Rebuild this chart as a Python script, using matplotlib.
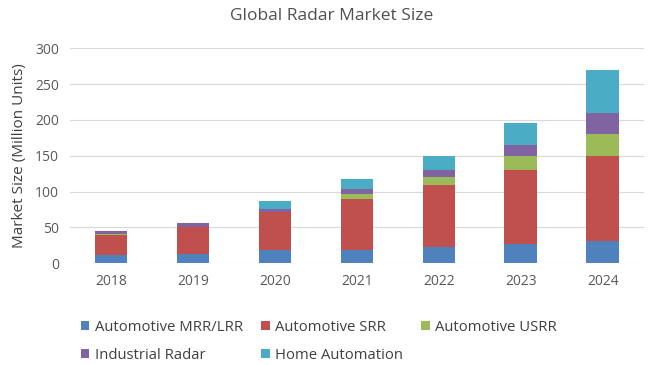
import numpy as np
import matplotlib.pyplot as plt

plt.rcParams['font.family'] = ['Open Sans', 'DejaVu Sans']

years = ['2018', '2019', '2020', '2021', '2022', '2023', '2024']
mrr_lrr = [12, 13, 18, 18, 23, 27, 31]
srr = [28, 37, 53, 71, 86, 103, 119]
usrr = [0.5, 0.5, 1, 7, 11, 20, 30]
industrial = [4, 5, 4, 7, 10, 15, 30]
home = [0, 0, 11, 15, 20, 30, 59]

series = [mrr_lrr, srr, usrr, industrial, home]
names = ['Automotive MRR/LRR', 'Automotive SRR', 'Automotive USRR',
         'Industrial Radar', 'Home Automation']
colors = ['#4F81BD', '#C0504D', '#9BBB59', '#8064A2', '#4BACC6']

fig = plt.figure(figsize=(6.61, 3.65), dpi=100)
ax = fig.add_axes([0.106, 0.279, 0.868, 0.589])

x = np.arange(len(years))
bottom = np.zeros(len(years))
bars = []
for vals, name, c in zip(series, names, colors):
    b = ax.bar(x, vals, 0.4, bottom=bottom, color=c, label=name, zorder=3)
    bars.append(b)
    bottom += np.array(vals)

ax.set_xlim(-0.5, len(years) - 0.5)
ax.set_ylim(0, 300)
ax.set_yticks(range(0, 301, 50))
ax.set_xticks(x)
ax.set_xticklabels(years)
ax.grid(axis='y', color='#D9D9D9', linewidth=0.8, zorder=0)
for s in ax.spines.values():
    s.set_visible(False)
ax.tick_params(length=0, labelsize=10, colors='#595959', pad=8)
ax.set_ylabel('Market Size (Million Units)', fontsize=11, color='#404040', labelpad=6)
fig.text(0.502, 0.955, 'Global Radar Market Size', ha='center', va='center',
         fontsize=12.5, color='#505050')

# legend fills rows: reorder for column-wise filling
order = [0, 3, 1, 4, 2]
leg = ax.legend([bars[i] for i in order], [names[i] for i in order],
                ncol=3, loc='upper left', bbox_to_anchor=(-0.005, -0.2),
                frameon=False, fontsize=10.7, handlelength=0.6, handleheight=0.6,
                handletextpad=0.35, columnspacing=1.2, labelspacing=0.9,
                labelcolor='#404040')

fig.savefig('out.png', dpi=100)
